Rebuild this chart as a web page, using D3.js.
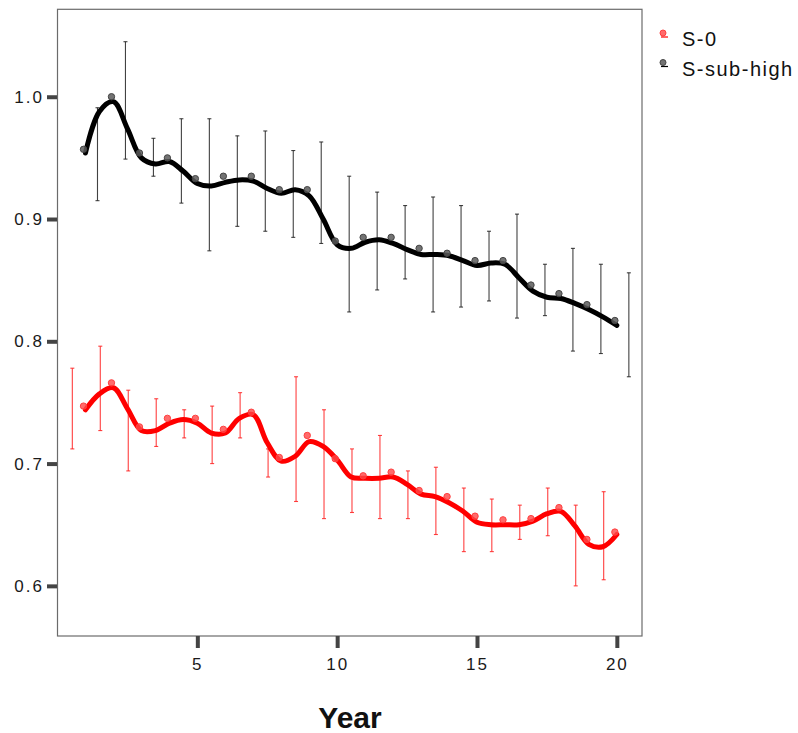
<!DOCTYPE html>
<html><head><meta charset="utf-8">
<script src="https://cdn.jsdelivr.net/npm/d3@7"></script>
<style>body{margin:0;background:#fff}svg{display:block}text{font-family:"Liberation Sans",Arial,sans-serif}</style>
</head><body><svg id="c" width="798" height="733"></svg>
<script>
const years = [1,2,3,4,5,6,7,8,9,10,11,12,13,14,15,16,17,18,19,20];
const seriesNames = ["S-0","S-sub-high"];
const redPts = [0.747,0.766,0.730,0.737,0.737,0.728,0.742,0.705,0.723,0.704,0.690,0.693,0.678,0.673,0.657,0.654,0.655,0.664,0.638,0.644];
const blackPts = [0.957,1.000,0.954,0.950,0.933,0.935,0.935,0.924,0.924,0.882,0.885,0.885,0.876,0.872,0.866,0.866,0.846,0.839,0.830,0.817];
const redErrHi = [0.778,0.796,0.760,0.753,0.744,0.747,0.758,0.712,0.771,0.744,0.712,0.723,0.694,0.697,0.680,0.671,0.666,0.680,0.666,0.677];
const redErrLo = [0.712,0.727,0.694,0.714,0.721,0.700,0.721,0.689,0.669,0.655,0.660,0.655,0.655,0.642,0.628,0.628,0.638,0.641,0.600,0.605];
const blackErrHi = [0.991,1.045,0.966,0.982,0.982,0.968,0.972,0.956,0.963,0.935,0.922,0.911,0.918,0.911,0.890,0.904,0.863,0.876,0.863,0.856];
const blackErrLo = [0.915,0.949,0.935,0.913,0.874,0.894,0.890,0.885,0.880,0.824,0.842,0.851,0.824,0.828,0.833,0.819,0.821,0.792,0.790,0.771];
const lineX = [1,1.5,2,2.5,3,3.5,4,4.5,5,5.5,6,6.5,7,7.5,8,8.5,9,9.5,10,10.5,11,11.5,12,12.5,13,13.5,14,14.5,15,15.5,16,16.5,17,17.5,18,18.5,19,19.5,20];
const redLine = [0.744,0.757,0.762,0.745,0.727,0.727,0.733,0.736,0.733,0.725,0.725,0.737,0.740,0.717,0.702,0.706,0.718,0.714,0.703,0.689,0.688,0.688,0.689,0.683,0.675,0.673,0.668,0.661,0.652,0.650,0.650,0.650,0.653,0.659,0.661,0.649,0.634,0.632,0.642];
const blackLine = [0.954,0.988,0.996,0.974,0.950,0.945,0.947,0.939,0.929,0.927,0.930,0.932,0.931,0.925,0.921,0.924,0.919,0.900,0.879,0.876,0.881,0.883,0.880,0.875,0.871,0.871,0.870,0.866,0.862,0.864,0.863,0.852,0.841,0.836,0.835,0.831,0.826,0.820,0.813];
const yTicks = [0.6,0.7,0.8,0.9,1.0];
const xTicks = [5,10,15,20];

const series = [
  {name:seriesNames[0], pts:redPts, hi:redErrHi, lo:redErrLo, line:redLine, col:"#ff0000", ptFill:"rgba(255,70,70,0.8)", ptStroke:"#ff4040", ebCol:"#ff2020", ebOff:-0.47},
  {name:seriesNames[1], pts:blackPts, hi:blackErrHi, lo:blackErrLo, line:blackLine, col:"#000000", ptFill:"rgba(90,90,90,0.85)", ptStroke:"#444", ebCol:"#222", ebOff:0.43}
];
const ptOff = -0.07;

const svg = d3.select("#c");
const x = d3.scaleLinear().domain([0,20.9]).range([57.5,642]);
const y = d3.scaleLinear().domain([0.559,1.0715]).range([636,9.3]);

svg.append("rect").attr("x",57.5).attr("y",9.3).attr("width",642-57.5).attr("height",636-9.3)
  .attr("fill","#fff").attr("stroke","#6b6b6b").attr("stroke-width",1.2);

const ya = svg.append("g").attr("transform","translate(57,0)")
  .call(d3.axisLeft(y).tickValues(yTicks).tickSize(10).tickPadding(3).tickFormat(d3.format(".1f")));
ya.select(".domain").remove();
ya.selectAll(".tick line").attr("stroke","#444").attr("stroke-width",4);
ya.selectAll(".tick text").attr("font-size",17).attr("fill","#1a1a1a").attr("letter-spacing","2px")
  .attr("font-family","'Liberation Sans',Arial,sans-serif");

const xa = svg.append("g").attr("transform","translate(0,636)")
  .call(d3.axisBottom(x).tickValues(xTicks).tickSize(12).tickPadding(10));
xa.select(".domain").remove();
xa.selectAll(".tick line").attr("stroke","#444").attr("stroke-width",4);
xa.selectAll(".tick text").attr("font-size",17).attr("fill","#1a1a1a").attr("letter-spacing","2px")
  .attr("font-family","'Liberation Sans',Arial,sans-serif");

svg.append("text").attr("x",350).attr("y",728).attr("text-anchor","middle")
  .attr("font-size",30).attr("font-weight","bold").attr("fill","#111").text("Year");

const plot = svg.append("g");
const lineGen = d3.line().x(d=>x(d[0])).y(d=>y(d[1])).curve(d3.curveCatmullRom.alpha(0.5));

series.forEach(s=>{
  const g = plot.append("g");
  years.forEach((yr,i)=>{
    const cx = x(yr + s.ebOff);
    g.append("line").attr("x1",cx).attr("x2",cx).attr("y1",y(s.hi[i])).attr("y2",y(s.lo[i]))
      .attr("stroke",s.ebCol).attr("stroke-width",1.1).attr("opacity",0.85);
    [s.hi[i],s.lo[i]].forEach(v=>{
      g.append("line").attr("x1",cx-2).attr("x2",cx+2).attr("y1",y(v)).attr("y2",y(v))
        .attr("stroke",s.ebCol).attr("stroke-width",1.1).attr("opacity",0.85);
    });
  });
});
series.forEach(s=>{
  plot.append("path").datum(lineX.map((lx,i)=>[lx,s.line[i]]))
    .attr("d",lineGen).attr("fill","none").attr("stroke",s.col).attr("stroke-width",5)
    .attr("stroke-linejoin","round").attr("stroke-linecap","round");
});
series.forEach(s=>{
  plot.append("g").selectAll("circle").data(years).join("circle")
    .attr("cx",(d)=>x(d+ptOff)).attr("cy",(d,i)=>y(s.pts[i])).attr("r",3.2)
    .attr("fill",s.ptFill).attr("stroke",s.ptStroke).attr("stroke-width",1);
});

const lg = svg.append("g");
series.forEach((s,i)=>{
  const cy = 33 + i*29.5;
  lg.append("circle").attr("cx",663).attr("cy",cy).attr("r",3).attr("fill",s.ptFill).attr("stroke",s.ptStroke);
  lg.append("line").attr("x1",661).attr("x2",668).attr("y1",cy+4).attr("y2",cy+4).attr("stroke",s.col).attr("stroke-width",1.2);
  lg.append("text").attr("x",682).attr("y",cy+13).attr("font-size",20).attr("letter-spacing","1.5px").attr("fill","#111").text(s.name);
});
</script></body></html>
